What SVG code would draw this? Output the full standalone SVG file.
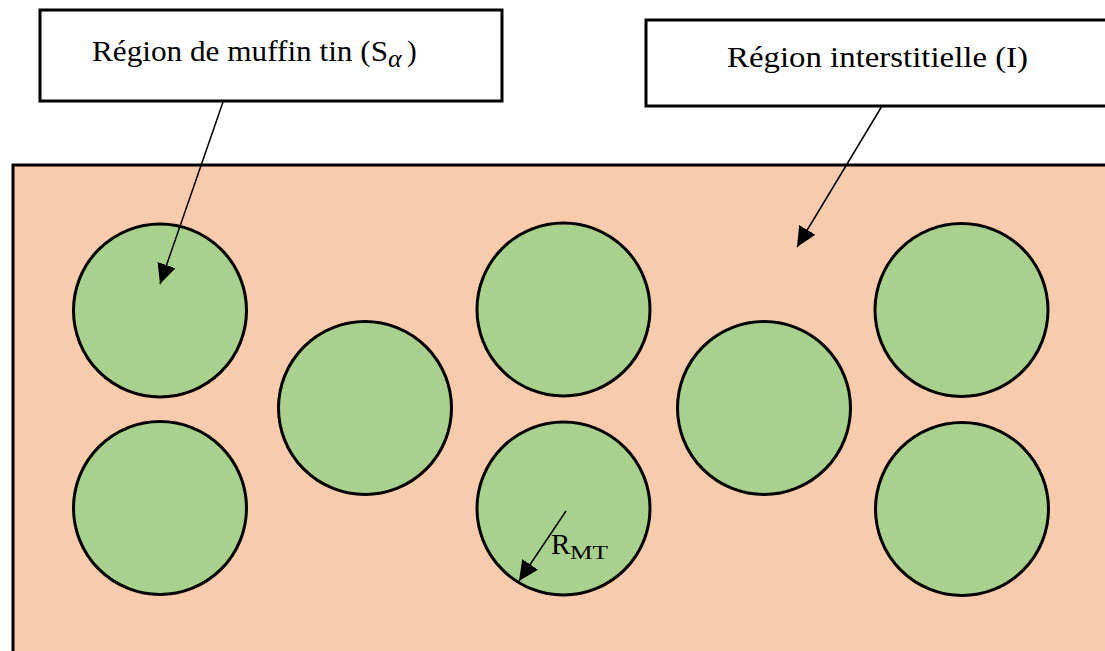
<svg xmlns="http://www.w3.org/2000/svg" width="1105" height="651" viewBox="0 0 1105 651">
  <style>
    .label { font-family: "Liberation Serif", "Times New Roman", serif; fill: #000; }
    .box { fill: #fff; stroke: #000; stroke-width: 3; }
    .atom { fill: #A9D18E; stroke: #000; stroke-width: 3; }
    .cell { fill: #F8CBAD; stroke: #000; stroke-width: 3; }
    .conn { stroke: #000; stroke-width: 1.5; fill: none; marker-end: url(#head); }
  </style>
  <defs>
    <marker id="head" markerUnits="userSpaceOnUse" markerWidth="22" markerHeight="20" refX="20" refY="9.5" orient="auto">
      <path d="M0,0 L20,9.5 L0,19 Z" fill="#000"/>
    </marker>
  </defs>

  <rect width="1105" height="651" fill="#fff"/>

  <!-- interstitial region (unit cell background) -->
  <g id="interstitial">
    <rect class="cell" x="13" y="165" width="1110" height="500"/>
  </g>

  <!-- muffin-tin spheres -->
  <g id="sphere-1"><circle class="atom" cx="160" cy="310.5" r="86.5"/></g>
  <g id="sphere-2"><circle class="atom" cx="160" cy="508" r="86.5"/></g>
  <g id="sphere-3"><circle class="atom" cx="365" cy="408" r="86.5"/></g>
  <g id="sphere-4"><circle class="atom" cx="563.5" cy="309.5" r="86.5"/></g>
  <g id="sphere-5"><circle class="atom" cx="563.5" cy="508.5" r="86.5"/></g>
  <g id="sphere-6"><circle class="atom" cx="764" cy="408" r="86.5"/></g>
  <g id="sphere-7"><circle class="atom" cx="961.5" cy="310" r="86.5"/></g>
  <g id="sphere-8"><circle class="atom" cx="962" cy="509" r="86.5"/></g>

  <!-- callout boxes -->
  <g id="label-muffin-tin">
    <rect class="box" x="40" y="10" width="462" height="91"/>
    <text class="label" x="92" y="61" font-size="29" textLength="296" lengthAdjust="spacingAndGlyphs">Région de muffin tin (S</text>
    <text class="label" x="388" y="67" font-size="26" font-style="italic">α</text>
    <text class="label" x="407" y="61" font-size="29">)</text>
  </g>

  <g id="label-interstitial">
    <rect class="box" x="646" y="20" width="470" height="86"/>
    <text class="label" x="727" y="67" font-size="29" textLength="301" lengthAdjust="spacingAndGlyphs">Région interstitielle (I)</text>
  </g>

  <!-- radius label -->
  <g id="label-rmt">
    <text class="label" x="551" y="554" font-size="29">R</text>
    <text class="label" x="570" y="559" font-size="19" textLength="38" lengthAdjust="spacingAndGlyphs">MT</text>
  </g>

  <!-- connectors -->
  <g id="connectors">
    <line class="conn" x1="223" y1="102" x2="160" y2="284"/>
    <line class="conn" x1="882" y1="106" x2="797" y2="247"/>
    <line class="conn" x1="566" y1="511" x2="519" y2="581"/>
  </g>
</svg>
